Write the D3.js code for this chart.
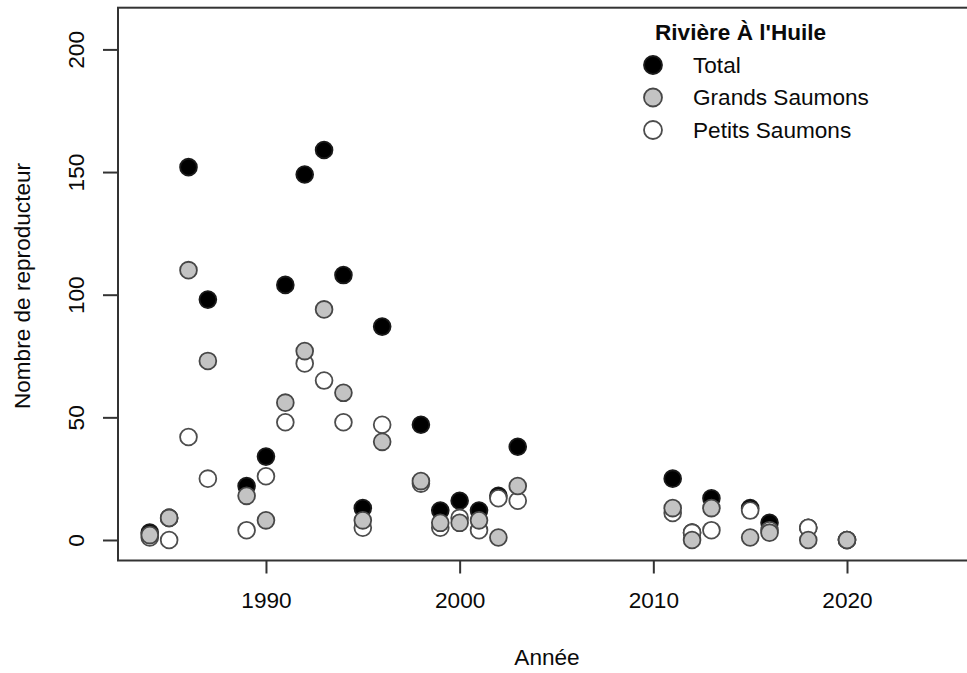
<!DOCTYPE html>
<html>
<head>
<meta charset="utf-8">
<script src="https://cdn.jsdelivr.net/npm/d3@7"></script>
<style>
  html, body { margin: 0; padding: 0; background: #fff; }
  svg { display: block; font-family: "Liberation Sans", Arial, sans-serif; }
</style>
</head>
<body>
<svg id="chart" width="967" height="673"></svg>
<script>
// Spawner counts, Rivière À l'Huile
const years   = [1984, 1985, 1986, 1987, 1989, 1990, 1991, 1992, 1993, 1994, 1995, 1996, 1998, 1999, 2000, 2001, 2002, 2003, 2011, 2012, 2013, 2015, 2016, 2018, 2020];
const total   = [3,    9,    152,  98,   22,   34,   104,  149,  159,  108,  13,   87,   47,   12,   16,   12,   18,   38,   25,   3,    17,   13,   7,    5,    0];
const grands  = [2,    9,    110,  73,   18,   8,    56,   77,   94,   60,   8,    40,   24,   7,    7,    8,    1,    22,   13,   0,    13,   1,    3,    0,    0];
const petits  = [1,    0,    42,   25,   4,    26,   48,   72,   65,   48,   5,    47,   23,   5,    9,    4,    17,   16,   11,   3,    4,    12,   4,    5,    0];

const xTicks = [1990, 2000, 2010, 2020];
const yTicks = [0, 50, 100, 150, 200];

const legendTitle = "Rivière À l'Huile";
const seriesNames = ["Total", "Grands Saumons", "Petits Saumons"];

const svg = d3.select("#chart");

// plot region (right edge runs past the canvas)
const x = d3.scaleLinear().domain([1982.36, 2026.64]).range([118, 975.6]);
const y = d3.scaleLinear().domain([-8.36, 217.0]).range([560.5, 7.7]);

const styles = {
  "Total":          { fill: "#000000", stroke: "#1a1a1a" },
  "Grands Saumons": { fill: "#c3c3c3", stroke: "#474747" },
  "Petits Saumons": { fill: "#ffffff", stroke: "#4d4d4d" }
};
const r = 8.4;
const axisColor = "#333";
const fontSize = 22.6;
const textColor = "#0a0a0a";

// frame
svg.append("rect")
  .attr("x", x.range()[0]).attr("y", y.range()[1])
  .attr("width", x.range()[1] - x.range()[0])
  .attr("height", y.range()[0] - y.range()[1])
  .attr("fill", "none").attr("stroke", axisColor).attr("stroke-width", 2);

// x axis
const xAxis = d3.axisBottom(x).tickValues(xTicks).tickFormat(d3.format("d"))
  .tickSize(13).tickPadding(14);
const gx = svg.append("g").attr("transform", `translate(0,${y.range()[0]})`).call(xAxis);
gx.select(".domain").remove();
gx.selectAll(".tick line").attr("stroke", axisColor).attr("stroke-width", 2);
gx.selectAll(".tick text").attr("fill", textColor).style("font-size", fontSize + "px")
  .attr("y", 40).attr("dy", "0.35em");

// y axis with rotated labels
const yAxis = d3.axisLeft(y).tickValues(yTicks).tickSize(15).tickFormat(d3.format("d"));
const gy = svg.append("g").attr("transform", `translate(${x.range()[0]},0)`).call(yAxis);
gy.select(".domain").remove();
gy.selectAll(".tick line").attr("stroke", axisColor).attr("stroke-width", 2);
gy.selectAll(".tick text")
  .attr("fill", textColor).style("font-size", fontSize + "px")
  .attr("x", null).attr("dy", null)
  .attr("text-anchor", "middle")
  .attr("transform", "translate(-42,0) rotate(-90)")
  .attr("y", 0).attr("dy", "0.35em");

// axis titles
svg.append("text")
  .attr("x", 547).attr("y", 657).attr("dy", "0.35em")
  .attr("text-anchor", "middle").attr("fill", textColor)
  .style("font-size", fontSize + "px").text("Année");

svg.append("text")
  .attr("transform", `translate(22,286) rotate(-90)`)
  .attr("dy", "0.35em").attr("text-anchor", "middle").attr("fill", textColor)
  .style("font-size", fontSize + "px").text("Nombre de reproducteur");

// points: total first, then small salmon, then large salmon on top
const layers = [
  { name: "Total", values: total },
  { name: "Petits Saumons", values: petits },
  { name: "Grands Saumons", values: grands }
];
layers.forEach(layer => {
  const st = styles[layer.name];
  svg.append("g").selectAll("circle")
    .data(years.map((yr, i) => ({ yr, v: layer.values[i] })))
    .join("circle")
    .attr("cx", d => x(d.yr)).attr("cy", d => y(d.v))
    .attr("r", r)
    .attr("fill", st.fill).attr("stroke", st.stroke).attr("stroke-width", 1.8);
});

// legend
const lg = svg.append("g");
lg.append("text")
  .attr("x", 655).attr("y", 32).attr("dy", "0.35em")
  .attr("fill", textColor).style("font-size", fontSize + "px").style("font-weight", "bold")
  .text(legendTitle);
seriesNames.forEach((name, i) => {
  const cy = 65 + i * 32.5;
  lg.append("circle").attr("cx", 653).attr("cy", cy).attr("r", r + 0.6)
    .attr("fill", styles[name].fill).attr("stroke", styles[name].stroke).attr("stroke-width", 1.8);
  lg.append("text").attr("x", 693).attr("y", cy).attr("dy", "0.35em")
    .attr("fill", textColor).style("font-size", fontSize + "px").text(name);
});
</script>
</body>
</html>
